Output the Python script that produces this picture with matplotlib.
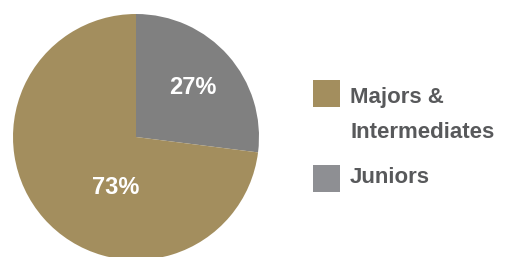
import matplotlib
matplotlib.use("Agg")
import matplotlib.pyplot as plt
from matplotlib.patches import Rectangle

categories = ["Juniors", "Majors &\nIntermediates"]
values = [27, 73]
pie_colors = ["#808080", "#A38E5E"]
legend_labels = ["Majors &\nIntermediates", "Juniors"]
legend_colors = ["#A38E5E", "#8E8F93"]

W, H = 508, 257
fig = plt.figure(figsize=(W / 100, H / 100), dpi=100)
plt.rcParams['font.family'] = ['Liberation Sans', 'DejaVu Sans']

cx, cy, r = 136, 257 - 137, 123
ax = fig.add_axes([(cx - r) / W, (cy - r) / H, 2 * r / W, 2 * r / H])
wedges, _ = ax.pie(values, colors=pie_colors, startangle=90, counterclock=False,
                   radius=1, wedgeprops=dict(linewidth=0))
ax.set_xlim(-1, 1)
ax.set_ylim(-1, 1)
ax.set_aspect('equal')
ax.axis('off')

label_pos = [(0.463, 0.40), (-0.163, -0.41)]
for v, (x, y) in zip(values, label_pos):
    ax.text(x, y, f"{v}%", ha='center', va='center', color='white',
            fontsize=17, fontweight='bold')

# legend drawn manually in pixel coordinates
sq = 27
sq_x = 313
sq_tops = [80, 165]
text_baselines = [[103, 138], [183]]
for lab, col, top, bases in zip(legend_labels, legend_colors, sq_tops, text_baselines):
    fig.patches.append(Rectangle(((sq_x) / W, (H - top - sq) / H), sq / W, sq / H,
                                 transform=fig.transFigure, facecolor=col,
                                 edgecolor='none'))
    for line, b in zip(lab.split("\n"), bases):
        fig.text(350 / W, (H - b) / H, line, ha='left', va='baseline',
                 fontsize=16, fontweight='bold', color='#58595B')

fig.savefig("out.png", dpi=100)
